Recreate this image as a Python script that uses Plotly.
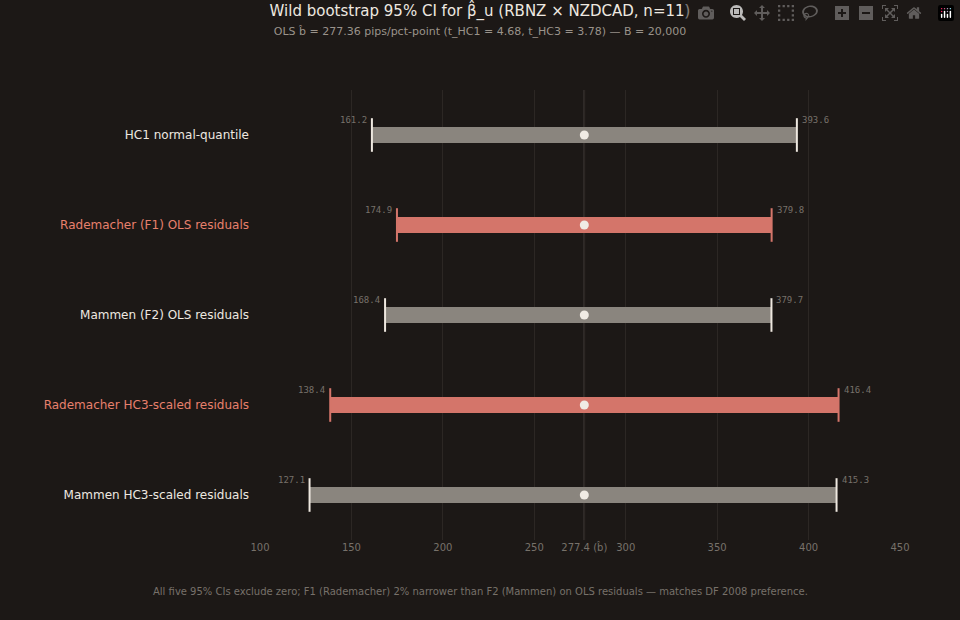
import plotly.graph_objects as go

# CI rows, top to bottom
methods = ["HC1 normal-quantile", "Rademacher (F1) OLS residuals", "Mammen (F2) OLS residuals",
           "Rademacher HC3-scaled residuals", "Mammen HC3-scaled residuals"]
lo = [161.2, 174.9, 168.4, 138.4, 127.1]
hi = [393.6, 379.8, 379.7, 416.4, 415.3]
highlight = [False, True, False, True, False]
b_hat = 277.36
tick_vals = [100, 150, 200, 250, 300, 350, 400, 450]

BG = "#1c1816"
GREY = "#8a857e"
RED = "#d4756a"
LABEL_RED = "#e8806d"

fig = go.Figure()
ys = list(range(len(methods)))

for i, m in enumerate(methods):
    col = RED if highlight[i] else GREY
    cap = RED if highlight[i] else "#eee8e0"
    fig.add_trace(go.Scatter(x=[lo[i], hi[i]], y=[i, i], mode="lines",
                             line=dict(color=col, width=16), hoverinfo="skip"))
    fig.add_trace(go.Scatter(x=[lo[i], hi[i]], y=[i, i], mode="markers",
                             marker=dict(symbol="line-ns", size=24,
                                         line=dict(color=cap, width=2)), hoverinfo="skip"))
    fig.add_annotation(x=lo[i], y=i, text=f"{lo[i]:.1f}", showarrow=False, xanchor="right",
                       yanchor="bottom", xshift=-3, yshift=8,
                       font=dict(family="DejaVu Sans Mono", size=9, color="#77716a"))
    fig.add_annotation(x=hi[i], y=i, text=f"{hi[i]:.1f}", showarrow=False, xanchor="left",
                       yanchor="bottom", xshift=3, yshift=8,
                       font=dict(family="DejaVu Sans Mono", size=9, color="#77716a"))

fig.add_trace(go.Scatter(x=[b_hat] * len(methods), y=ys, mode="markers",
                         marker=dict(color="#f0ebe4", size=9), hoverinfo="skip"))

fig.add_vline(x=b_hat, line=dict(color="#4a4440", width=1.5), layer="below")

fig.update_layout(
    width=960, height=620, showlegend=False,
    paper_bgcolor=BG, plot_bgcolor=BG,
    margin=dict(l=260, r=60, t=90, b=80),
    font=dict(family="DejaVu Sans", color="#eee8e0"),
    title=dict(text="Wild bootstrap 95% CI for β̂_u (RBNZ × NZDCAD, n=11)"
                    "<br><span style='font-size:11px;color:#9a938b'>OLS b̂ = 277.36 pips/pct-point "
                    "(t_HC1 = 4.68, t_HC3 = 3.78) — B = 20,000</span>",
               x=0.5, xanchor="center", y=0.975, yanchor="top", font=dict(size=15, color="#eee8e0")),
    xaxis=dict(range=[100, 450], tickvals=tick_vals + [b_hat],
               ticktext=[str(t) for t in tick_vals] + ["277.4 (b̂)"],
               showgrid=True, gridcolor="#2c2724", zeroline=False, showline=False,
               tickfont=dict(size=10, color="#77716a")),
    yaxis=dict(range=[len(methods) - 0.5, -0.5], tickvals=ys, ticktext=[
        f"<span style='color:{LABEL_RED if h else '#eee8e0'}'>{m}</span>"
        for m, h in zip(methods, highlight)],
        showgrid=False, zeroline=False, ticks="", ticklabelstandoff=10,
        tickfont=dict(size=12)),
)
# footer centred on the page, not the plot area
fig.add_annotation(x=(480 - 260) / 640, y=-0.13, xref="paper", yref="paper", showarrow=False,
                   text="All five 95% CIs exclude zero; F1 (Rademacher) 2% narrower than F2 (Mammen) "
                        "on OLS residuals — matches DF 2008 preference.",
                   font=dict(size=10, color="#77716a"))

fig.write_html("out.html",
               post_script="document.body.style.margin='0';document.body.style.background='#1c1816';")
